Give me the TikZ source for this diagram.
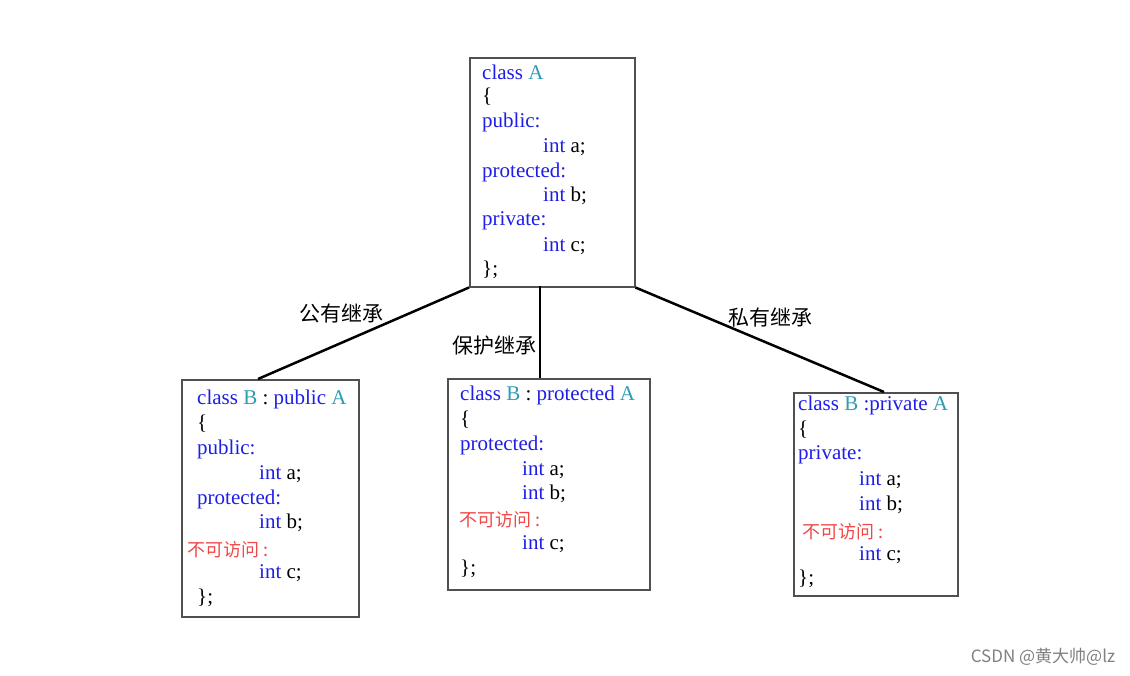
\documentclass[tikz,border=0pt]{standalone}
\usepackage{fontspec}
\setmainfont{Liberation Serif}
\newfontfamily\cjk{Noto Sans CJK SC}
\definecolor{kwblue}{HTML}{1E1EE6}
\definecolor{cnteal}{HTML}{2E9DB4}
\definecolor{nored}{HTML}{F04848}
\definecolor{boxgray}{HTML}{505050}
\newcommand{\kw}[1]{\textcolor{kwblue}{#1}}
\newcommand{\cn}[1]{\textcolor{cnteal}{#1}}
\newcommand{\na}{{\cjk\fontsize{18}{18}\selectfont\textcolor{nored}{不可访问 :}}}
\begin{document}
\begin{tikzpicture}[x=1pt,y=-1pt,
  txt/.style={anchor=west,inner sep=0pt,font=\fontsize{21}{21}\selectfont},
  classbox/.style={draw=boxgray,line width=1.5pt,fill=white},
  edge/.style={line width=2.5pt,black},
  lbl/.style={inner sep=0pt,font=\cjk\fontsize{21}{21}\selectfont}]
\useasboundingbox[fill=white] (0,0) rectangle (1130,675);
% boxes
\node[classbox,minimum width=165pt,minimum height=229pt,anchor=north west] (A) at (469,57) {};
\node[classbox,minimum width=177pt,minimum height=237pt,anchor=north west] (B1) at (181,379) {};
\node[classbox,minimum width=202pt,minimum height=211pt,anchor=north west] (B2) at (447,378) {};
\node[classbox,minimum width=164pt,minimum height=203pt,anchor=north west] (B3) at (793,392) {};
% connectors
\coordinate (b1top) at (258,379);
\coordinate (b2top) at (540,378);
\coordinate (b3top) at (884,392);
\coordinate (amid) at (540,286);
\draw[edge] (A.south west) -- (B1.north west -| b1top);
\draw[edge] (amid) -- (B2.north -| b2top);
\draw[edge] (A.south east) -- (B3.north west -| b3top);
% labels
\node[lbl] (l1) at (341,313) {公有继承};
\node[lbl] (l2) at (494,346) {保护继承};
\node[lbl] (l3) at (770,317) {私有继承};
% box A
\node[txt] (a1) at (482,72) {\kw{class} \cn{A}};
\node[txt] (a2) at (482,97) {\{};
\node[txt] (a3) at (482,122) {\kw{public:}};
\node[txt] (a4) at (543,147) {\kw{int} a;};
\node[txt] (a5) at (482,172) {\kw{protected:}};
\node[txt] (a6) at (543,196) {\kw{int} b;};
\node[txt] (a7) at (482,221) {\kw{private:}};
\node[txt] (a8) at (543,246) {\kw{int} c;};
\node[txt] (a9) at (482,270) {\};};
% box B1
\node[txt] (p1) at (197,399) {\kw{class} \cn{B} : \kw{public} \cn{A}};
\node[txt] (p2) at (197,424) {\{};
\node[txt] (p3) at (197,449) {\kw{public:}};
\node[txt] (p4) at (259,474) {\kw{int} a;};
\node[txt] (p5) at (197,499) {\kw{protected:}};
\node[txt] (p6) at (259,523) {\kw{int} b;};
\node[txt] (p7) at (187,550) {\na};
\node[txt] (p8) at (259,573) {\kw{int} c;};
\node[txt] (p9) at (197,598) {\};};
% box B2
\node[txt] (q1) at (460,395) {\kw{class} \cn{B} : \kw{protected} \cn{A}};
\node[txt] (q2) at (460,420) {\{};
\node[txt] (q3) at (460,445) {\kw{protected:}};
\node[txt] (q4) at (522,470) {\kw{int} a;};
\node[txt] (q5) at (522,494) {\kw{int} b;};
\node[txt] (q6) at (459,520) {\na};
\node[txt] (q7) at (522,544) {\kw{int} c;};
\node[txt] (q8) at (460,569) {\};};
% box B3
\node[txt] (r1) at (798,405) {\kw{class} \cn{B} \kw{:private} \cn{A}};
\node[txt] (r2) at (798,430) {\{};
\node[txt] (r3) at (798,455) {\kw{private:}};
\node[txt] (r4) at (859,480) {\kw{int} a;};
\node[txt] (r5) at (859,505) {\kw{int} b;};
\node[txt] (r6) at (802,532) {\na};
\node[txt] (r7) at (859,555) {\kw{int} c;};
\node[txt] (r8) at (798,579) {\};};
% watermark
\node[inner sep=0pt,font=\cjk\fontsize{17}{17}\selectfont,text=gray] (wm) at (1043,657) {CSDN @黄大帅@lz};
\end{tikzpicture}
\end{document}
